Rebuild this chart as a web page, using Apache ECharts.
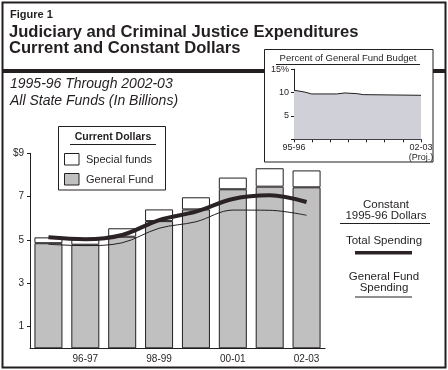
<!DOCTYPE html>
<html><head><meta charset="utf-8">
<script src="https://cdn.jsdelivr.net/npm/echarts@6/dist/echarts.min.js"></script>
<style>html,body{margin:0;padding:0;background:#fff}#c{width:448px;height:370px}</style>
</head><body><div id="c"></div>
<script>
const categories = ['95-96','96-97','97-98','98-99','99-00','00-01','01-02','02-03'];
const generalFund = [4.85, 4.78, 5.15, 5.87, 6.41, 7.34, 7.46, 7.43];
const specialFunds = [0.27, 0.25, 0.39, 0.54, 0.56, 0.54, 0.85, 0.78];
const constTotal = [5.12, 5.03, 5.23, 5.92, 6.31, 6.89, 7.06, 6.75];
const constGF = [4.80, 4.74, 4.87, 5.54, 5.84, 6.38, 6.37, 6.14];
const yTicks = [1, 3, 5, 7, 9];
const insetX = [0, 0.33, 0.61, 0.97, 2.35, 2.44, 2.81, 2.9, 3.09, 3.46, 3.82, 3.92, 7];
const insetPct = [10.5, 10.3, 10.1, 9.72, 9.72, 9.93, 9.93, 10.07, 9.86, 9.79, 9.57, 9.43, 9.43];
const insetLabels = {0: '95-96', 7: '02-03\n(Proj.)'};

const F = '"Liberation Sans", Arial, sans-serif';
const ink = '#231f20';
const chart = echarts.init(document.getElementById('c'), null, {renderer: 'canvas'});
const txt = (x, y, s, o) => ({type: 'text', x, y, silent: true, style: Object.assign({text: s, fontFamily: F, fontSize: 11, fill: ink, verticalAlign: 'middle'}, o || {})});
const line = (x1, y1, x2, y2, w) => ({type: 'line', silent: true, shape: {x1, y1, x2, y2}, style: {stroke: ink, lineWidth: w || 1}});

chart.setOption({
  animation: false,
  grid: [
    {left: 30, right: 123, top: 153.3, bottom: 21.7},
    {left: 294, right: 27, top: 69.3, bottom: 230.7}
  ],
  xAxis: [
    {type: 'category', data: categories, gridIndex: 0,
     axisLine: {lineStyle: {color: ink, width: 1}}, axisTick: {show: false},
     axisLabel: {interval: (i) => i % 2 === 1, color: ink, fontFamily: F, fontSize: 10, margin: 6}},
    {type: 'value', gridIndex: 1, min: 0, max: 7, interval: 1,
     axisLine: {onZero: false, lineStyle: {color: ink}}, splitLine: {show: false},
     axisTick: {show: true, length: 3, lineStyle: {color: ink}},
     axisLabel: {formatter: (v) => insetLabels[v] || '', color: ink, fontFamily: F, fontSize: 9, margin: 3, lineHeight: 10, align: 'center'}}
  ],
  yAxis: [
    {type: 'value', gridIndex: 0, min: 0, max: 9,
     axisLine: {show: true, lineStyle: {color: ink}}, splitLine: {show: false},
     axisTick: {show: true, length: 3, customValues: yTicks, lineStyle: {color: ink}},
     axisLabel: {customValues: yTicks, formatter: (v) => v === 9 ? '$9' : String(v), color: ink, fontFamily: F, fontSize: 10, margin: 6}},
    {type: 'value', gridIndex: 1, min: 0, max: 15, interval: 5,
     axisLine: {show: true, lineStyle: {color: ink}}, splitLine: {show: false},
     axisTick: {show: true, length: 3, lineStyle: {color: ink}},
     axisLabel: {formatter: (v) => v === 15 ? '15%' : (v === 0 ? '' : String(v)), color: ink, fontFamily: F, fontSize: 9, margin: 5}}
  ],
  series: [
    {type: 'bar', name: 'General Fund', stack: 'a', data: generalFund, barWidth: 28, xAxisIndex: 0, yAxisIndex: 0,
     itemStyle: {color: '#c0c0c0', borderColor: ink, borderWidth: 1}},
    {type: 'bar', name: 'Special funds', stack: 'a', data: specialFunds, barWidth: 28, xAxisIndex: 0, yAxisIndex: 0,
     itemStyle: {color: '#ffffff', borderColor: ink, borderWidth: 1}},
    {type: 'line', name: 'Total Spending', data: constTotal, smooth: 0.35, symbol: 'none', z: 5,
     lineStyle: {color: '#2a2225', width: 4}},
    {type: 'line', name: 'General Fund Spending', data: constGF, smooth: 0.35, symbol: 'none', z: 5,
     lineStyle: {color: ink, width: 1}},
    {type: 'line', xAxisIndex: 1, yAxisIndex: 1, z: 1, data: insetX.map((x, i) => [x, insetPct[i]]),
     symbol: 'none', lineStyle: {color: ink, width: 1}, areaStyle: {color: '#cfd0d8', opacity: 1}}
  ],
  graphic: [
    {type: 'rect', z: -10, silent: true, shape: {x: 2.5, y: 2.5, width: 443, height: 365}, style: {fill: '#fff', stroke: ink, lineWidth: 2}},
    {type: 'rect', z: -9, silent: true, shape: {x: 2, y: 69, width: 444, height: 4}, style: {fill: ink}},
    {type: 'rect', z: -5, silent: true, shape: {x: 264.5, y: 49.5, width: 168.5, height: 112.5}, style: {fill: '#fff', stroke: ink, lineWidth: 1}},
    txt(10, 15, 'Figure 1', {fontWeight: 'bold', fontSize: 11}),
    txt(9, 32, 'Judiciary and Criminal Justice Expenditures', {fontWeight: 'bold', fontSize: 16.6}),
    txt(9, 48, 'Current and Constant Dollars', {fontWeight: 'bold', fontSize: 16.6}),
    txt(10, 84, '1995-96 Through 2002-03', {fontStyle: 'italic', fontSize: 14}),
    txt(10, 101, 'All State Funds (In Billions)', {fontStyle: 'italic', fontSize: 14}),
    txt(348, 58, 'Percent of General Fund Budget', {fontSize: 9.5, align: 'center'}),
    line(276, 64.5, 420, 64.5),
    {type: 'rect', z: 30, silent: true, shape: {x: 58.5, y: 126.5, width: 107, height: 63.5}, style: {fill: '#fff', stroke: ink, lineWidth: 1}},
    Object.assign(txt(113, 137, 'Current Dollars', {fontWeight: 'bold', fontSize: 10.5, align: 'center'}), {z: 31}),
    Object.assign(line(70, 144.5, 156, 144.5), {z: 31}),
    {type: 'rect', z: 31, silent: true, shape: {x: 64.5, y: 153.5, width: 14.5, height: 11.5}, style: {fill: '#fff', stroke: ink, lineWidth: 1}},
    {type: 'rect', z: 31, silent: true, shape: {x: 64.5, y: 173.5, width: 14.5, height: 11.5}, style: {fill: '#c0c0c0', stroke: ink, lineWidth: 1}},
    Object.assign(txt(86, 159.5, 'Special funds', {fontSize: 11}), {z: 31}),
    Object.assign(txt(86, 179.5, 'General Fund', {fontSize: 11}), {z: 31}),
    txt(386, 205, 'Constant', {fontSize: 11.5, align: 'center'}),
    txt(386, 215.5, '1995-96 Dollars', {fontSize: 11.5, align: 'center'}),
    line(340, 223.5, 430, 223.5),
    txt(384, 241, 'Total Spending', {fontSize: 11.5, align: 'center'}),
    {type: 'rect', silent: true, shape: {x: 355, y: 251, width: 57, height: 3.5}, style: {fill: '#2a2225'}},
    txt(384, 277, 'General Fund', {fontSize: 11.5, align: 'center'}),
    txt(384, 287.5, 'Spending', {fontSize: 11.5, align: 'center'}),
    line(355, 297, 412, 297)
  ]
});
</script></body></html>
